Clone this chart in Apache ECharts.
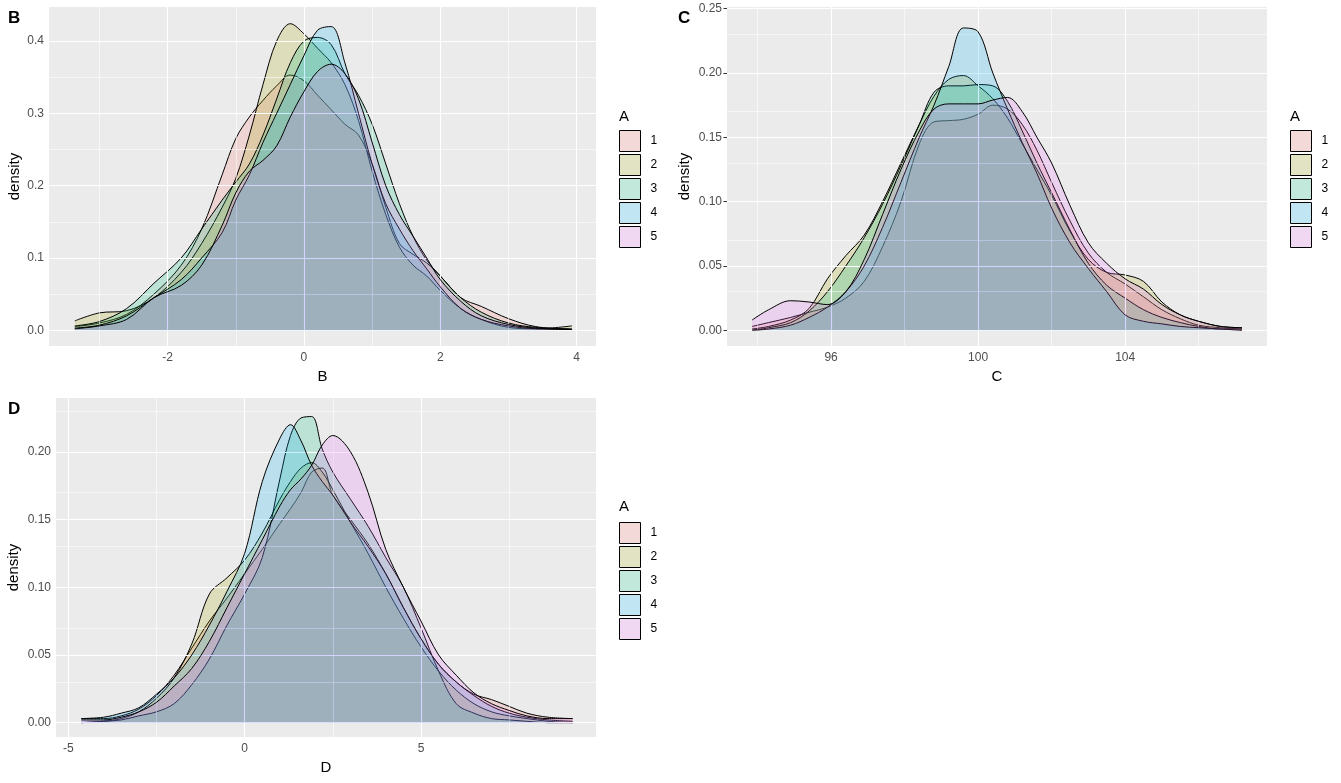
<!DOCTYPE html>
<html>
<head>
<meta charset="utf-8">
<script src="https://cdn.jsdelivr.net/npm/echarts/dist/echarts.min.js"></script>
<style>
html, body { margin: 0; padding: 0; background: #fff; }
#main { width: 1341px; height: 783px; }
</style>
</head>
<body>
<div id="main"></div>
<script>
var groups = ['1', '2', '3', '4', '5'];
var fills = ['#F8766D', '#A3A500', '#00BF7D', '#00B0F6', '#E76BF3'];

// panel B: density of B by group A
var bX = [-3.36, -3.0, -2.6, -2.2, -1.8, -1.5, -1.2, -1.0, -0.8, -0.6, -0.4, -0.2, 0, 0.2, 0.4, 0.6, 0.8, 1.0, 1.2, 1.4, 1.6, 1.8, 2.0, 2.3, 2.6, 3.0, 3.4, 3.93];
var b1 = [0.005, 0.01, 0.022, 0.05, 0.09, 0.14, 0.215, 0.265, 0.295, 0.318, 0.338, 0.353, 0.345, 0.325, 0.305, 0.285, 0.27, 0.23, 0.17, 0.12, 0.105, 0.093, 0.075, 0.045, 0.033, 0.016, 0.005, 0.001];
var b2 = [0.013, 0.024, 0.027, 0.045, 0.08, 0.12, 0.17, 0.21, 0.27, 0.34, 0.40, 0.424, 0.41, 0.39, 0.37, 0.34, 0.29, 0.22, 0.16, 0.115, 0.09, 0.075, 0.055, 0.03, 0.015, 0.004, 0.002, 0.006];
var b3 = [0.006, 0.012, 0.03, 0.065, 0.1, 0.14, 0.18, 0.205, 0.23, 0.27, 0.32, 0.37, 0.4, 0.405, 0.395, 0.355, 0.325, 0.285, 0.23, 0.175, 0.13, 0.097, 0.075, 0.045, 0.025, 0.01, 0.004, 0.002];
var b4 = [0.003, 0.007, 0.02, 0.045, 0.07, 0.1, 0.135, 0.18, 0.215, 0.26, 0.3, 0.34, 0.38, 0.415, 0.42, 0.37, 0.3, 0.23, 0.175, 0.14, 0.11, 0.085, 0.06, 0.03, 0.015, 0.006, 0.002, 0.001];
var b5 = [0.002, 0.006, 0.015, 0.045, 0.062, 0.09, 0.145, 0.19, 0.22, 0.235, 0.255, 0.295, 0.33, 0.358, 0.368, 0.355, 0.32, 0.26, 0.2, 0.16, 0.13, 0.1, 0.07, 0.04, 0.02, 0.008, 0.003, 0.001];

// panel C
var cX = [93.85, 94.3, 94.9, 95.4, 95.9, 96.4, 96.9, 97.4, 97.9, 98.4, 98.8, 99.2, 99.6, 100.0, 100.4, 100.8, 101.2, 101.6, 102.0, 102.5, 103.0, 103.5, 104.0, 104.5, 105.0, 105.5, 106.0, 106.6, 107.18];
var c1 = [0.003, 0.006, 0.01, 0.014, 0.018, 0.025, 0.038, 0.065, 0.1, 0.145, 0.162, 0.163, 0.164, 0.168, 0.175, 0.172, 0.16, 0.14, 0.115, 0.085, 0.06, 0.045, 0.036, 0.026, 0.016, 0.009, 0.004, 0.002, 0.001];
var c2 = [0.001, 0.003, 0.008, 0.017, 0.04, 0.058, 0.074, 0.1, 0.13, 0.16, 0.182, 0.195, 0.198, 0.19, 0.18, 0.165, 0.145, 0.125, 0.105, 0.077, 0.055, 0.045, 0.043, 0.038, 0.022, 0.012, 0.007, 0.003, 0.002];
var c3 = [0.0, 0.002, 0.006, 0.015, 0.03, 0.05, 0.072, 0.098, 0.128, 0.16, 0.185, 0.19, 0.19, 0.191, 0.19, 0.178, 0.155, 0.13, 0.107, 0.078, 0.052, 0.035, 0.025, 0.016, 0.01, 0.006, 0.003, 0.001, 0.001];
var c4 = [0.0, 0.001, 0.004, 0.01, 0.018, 0.03, 0.05, 0.08, 0.115, 0.15, 0.175, 0.205, 0.235, 0.232, 0.2, 0.172, 0.146, 0.122, 0.095, 0.068, 0.048, 0.03, 0.012, 0.007, 0.005, 0.003, 0.002, 0.001, 0.0];
var c5 = [0.008, 0.016, 0.023, 0.022, 0.02, 0.03, 0.055, 0.09, 0.125, 0.155, 0.172, 0.176, 0.176, 0.176, 0.179, 0.181, 0.17, 0.15, 0.13, 0.097, 0.068, 0.052, 0.04, 0.032, 0.02, 0.012, 0.007, 0.003, 0.002];

// panel D
var dX = [-4.63, -4.0, -3.5, -3.0, -2.5, -2.0, -1.5, -1.0, -0.5, 0, 0.5, 1.0, 1.3, 1.6, 1.9, 2.2, 2.5, 3.0, 3.5, 4.0, 4.5, 5.0, 5.5, 6.0, 6.5, 7.0, 7.5, 8.0, 8.6, 9.3];
var d1 = [0.003, 0.003, 0.005, 0.01, 0.02, 0.035, 0.055, 0.075, 0.092, 0.11, 0.128, 0.147, 0.158, 0.17, 0.185, 0.188, 0.168, 0.15, 0.132, 0.11, 0.085, 0.062, 0.043, 0.03, 0.021, 0.017, 0.012, 0.007, 0.004, 0.003];
var d2 = [0.0, 0.001, 0.003, 0.008, 0.018, 0.033, 0.058, 0.095, 0.107, 0.12, 0.14, 0.165, 0.178, 0.188, 0.192, 0.185, 0.172, 0.148, 0.125, 0.1, 0.077, 0.056, 0.038, 0.024, 0.014, 0.008, 0.005, 0.003, 0.001, 0.0];
var d3 = [0.0, 0.001, 0.002, 0.005, 0.008, 0.014, 0.028, 0.047, 0.072, 0.095, 0.122, 0.18, 0.212, 0.225, 0.226, 0.202, 0.185, 0.165, 0.145, 0.122, 0.1, 0.07, 0.038, 0.014, 0.007, 0.003, 0.002, 0.001, 0.0, 0.0];
var d4 = [0.003, 0.004, 0.007, 0.011, 0.021, 0.033, 0.05, 0.072, 0.097, 0.125, 0.178, 0.21, 0.22, 0.208, 0.19, 0.178, 0.168, 0.148, 0.13, 0.11, 0.085, 0.062, 0.043, 0.03, 0.02, 0.012, 0.007, 0.004, 0.002, 0.001];
var d5 = [0.002, 0.002, 0.004, 0.008, 0.015, 0.027, 0.04, 0.06, 0.085, 0.11, 0.135, 0.16, 0.172, 0.18, 0.19, 0.205, 0.212, 0.2, 0.17, 0.128, 0.1, 0.075, 0.05, 0.035, 0.022, 0.014, 0.009, 0.005, 0.003, 0.003];

// tick labels and minor grid positions
var bXTicks = [-2, 0, 2, 4], bXMinor = [-3, -1, 1, 3];
var bYTicks = [0, 0.1, 0.2, 0.3, 0.4], bYMinor = [0.05, 0.15, 0.25, 0.35];
var cXTicks = [96, 100, 104], cXMinor = [94, 98, 102, 106];
var cYTicks = [0, 0.05, 0.1, 0.15, 0.2, 0.25], cYMinor = [0.025, 0.075, 0.125, 0.175, 0.225];
var dXTicks = [-5, 0, 5], dXMinor = [-2.5, 2.5, 7.5];
var dYTicks = [0, 0.05, 0.1, 0.15, 0.2], dYMinor = [0.025, 0.075, 0.125, 0.175, 0.225];

var FONT = '"Liberation Sans", Arial, sans-serif';

function pairs(xs, ys) {
    return xs.map(function (x, i) { return [x, ys[i]]; });
}

function rgba(hex, a) {
    var n = parseInt(hex.slice(1), 16);
    return 'rgba(' + (n >> 16) + ',' + ((n >> 8) & 255) + ',' + (n & 255) + ',' + a + ')';
}

// legend key = fill at alpha 0.2 over grey95
function keyColor(hex) {
    var n = parseInt(hex.slice(1), 16);
    var c = [n >> 16, (n >> 8) & 255, n & 255].map(function (v) { return Math.round(242 * 0.8 + v * 0.2); });
    return 'rgb(' + c.join(',') + ')';
}

var panels = [
    { tag: 'B', x: bX, ys: [b1, b2, b3, b4, b5], grid: { left: 49, top: 7, width: 547, height: 339 },
      xMin: -3.739, xMax: 4.283, yMin: -0.0218, yMax: 0.4471, xTicks: bXTicks, xMinor: bXMinor,
      yTicks: bYTicks, yMinor: bYMinor, yDigits: 1, yGap: 27 },
    { tag: 'C', x: cX, ys: [c1, c2, c3, c4, c5], grid: { left: 727, top: 7, width: 540, height: 339 },
      xMin: 93.167, xMax: 107.86, yMin: -0.0122, yMax: 0.2513, xTicks: cXTicks, xMinor: cXMinor,
      yTicks: cYTicks, yMinor: cYMinor, yDigits: 2, yGap: 35 },
    { tag: 'D', x: dX, ys: [d1, d2, d3, d4, d5], grid: { left: 56, top: 398, width: 540, height: 339 },
      xMin: -5.349, xMax: 9.962, yMin: -0.0106, yMax: 0.2397, xTicks: dXTicks, xMinor: dXMinor,
      yTicks: dYTicks, yMinor: dYMinor, yDigits: 2, yGap: 35 }
];

var legendPos = [
    { left: 619, top: 130, titleTop: 109 },
    { left: 1290, top: 130, titleTop: 109 },
    { left: 619, top: 522, titleTop: 499 }
];

var grids = [], xAxes = [], yAxes = [], series = [], titles = [], legends = [];

panels.forEach(function (p, i) {
    grids.push(Object.assign({ show: true, backgroundColor: '#EBEBEB', borderWidth: 0 }, p.grid));

    xAxes.push({
        type: 'value', gridIndex: i, min: p.xMin, max: p.xMax,
        name: p.tag, nameLocation: 'middle', nameGap: 23,
        nameTextStyle: { fontSize: 15, color: '#000', fontFamily: FONT },
        axisLine: { show: false }, splitLine: { show: false },
        axisTick: { show: true, length: 3.5, customValues: p.xTicks, lineStyle: { color: '#333', width: 1 } },
        axisLabel: { customValues: p.xTicks, color: '#4D4D4D', fontSize: 12, fontFamily: FONT, margin: 6,
                     formatter: function (v) { return String(v); } }
    });
    yAxes.push({
        type: 'value', gridIndex: i, min: p.yMin, max: p.yMax,
        name: 'density', nameLocation: 'middle', nameGap: p.yGap,
        nameTextStyle: { fontSize: 15, color: '#000', fontFamily: FONT },
        axisLine: { show: false }, splitLine: { show: false },
        axisTick: { show: true, length: 3.5, customValues: p.yTicks, lineStyle: { color: '#333', width: 1 } },
        axisLabel: { customValues: p.yTicks, color: '#4D4D4D', fontSize: 12, fontFamily: FONT, margin: 5,
                     formatter: function (v) { return v.toFixed(p.yDigits); } }
    });

    // white grid lines under the densities
    var lines = [];
    p.xTicks.forEach(function (v) { lines.push({ xAxis: v, lineStyle: { color: '#fff', width: 1.1, type: 'solid' } }); });
    p.xMinor.forEach(function (v) { lines.push({ xAxis: v, lineStyle: { color: '#fff', width: 0.55, type: 'solid' } }); });
    p.yTicks.forEach(function (v) { lines.push({ yAxis: v, lineStyle: { color: '#fff', width: 1.1, type: 'solid' } }); });
    p.yMinor.forEach(function (v) { lines.push({ yAxis: v, lineStyle: { color: '#fff', width: 0.55, type: 'solid' } }); });
    series.push({
        name: 'grid' + i, type: 'line', xAxisIndex: i, yAxisIndex: i, data: [], z: 1,
        silent: true, animation: false,
        markLine: { silent: true, animation: false, symbol: ['none', 'none'], label: { show: false },
                    lineStyle: { type: 'solid' }, data: lines }
    });

    // one z level per group so later fills cover earlier outlines, as in ggplot
    p.ys.forEach(function (ys, k) {
        series.push({
            name: groups[k], type: 'line', xAxisIndex: i, yAxisIndex: i,
            data: pairs(p.x, ys),
            smooth: 0.35, symbol: 'none', showSymbol: false, silent: true, animation: false,
            z: 2 + k,
            lineStyle: { color: '#000', width: 1 },
            itemStyle: { color: fills[k] },
            areaStyle: { color: rgba(fills[k], 0.2), opacity: 1 }
        });
    });

    titles.push({ text: p.tag, left: i === 1 ? 678 : 8, top: p.grid.top + 3, padding: 0,
                  textStyle: { fontSize: 17, fontWeight: 'bold', color: '#000', fontFamily: FONT } });

    var lp = legendPos[i];
    titles.push({ text: 'A', left: lp.left, top: lp.titleTop, padding: 0,
                  textStyle: { fontSize: 15, fontWeight: 'normal', color: '#000', fontFamily: FONT } });
    legends.push({
        orient: 'vertical', left: lp.left, top: lp.top, padding: 0,
        icon: 'rect', itemWidth: 21, itemHeight: 21, itemGap: 2, selectedMode: false,
        textStyle: { fontSize: 12, color: '#000', fontFamily: FONT, padding: [0, 0, 0, 5] },
        data: groups.map(function (g, k) {
            return { name: g, itemStyle: { color: keyColor(fills[k]), borderColor: '#000', borderWidth: 1 } };
        })
    });
});

var chart = echarts.init(document.getElementById('main'), null, { renderer: 'canvas' });
chart.setOption({
    backgroundColor: '#fff',
    animation: false,
    title: titles,
    legend: legends,
    grid: grids,
    xAxis: xAxes,
    yAxis: yAxes,
    series: series
});
</script>
</body>
</html>
